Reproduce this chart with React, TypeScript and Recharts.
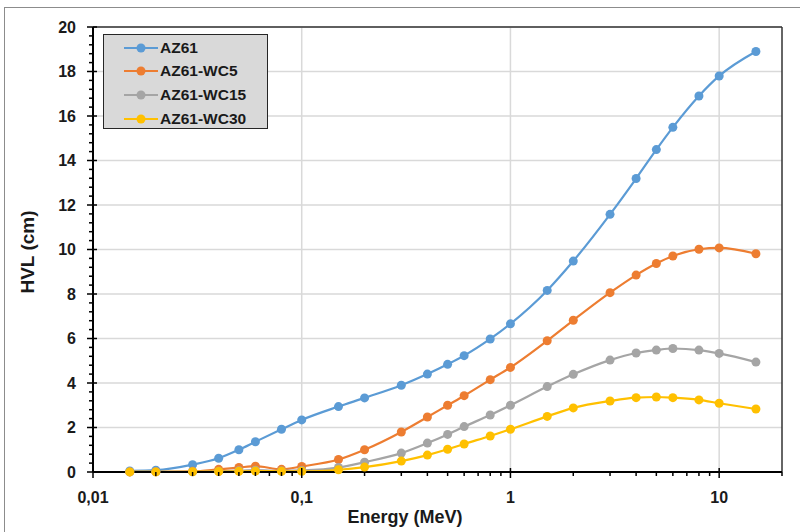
import {
  LineChart,
  Line,
  XAxis,
  YAxis,
  CartesianGrid,
  Legend,
  ReferenceLine,
  Label,
} from 'recharts';

const energies = [0.015, 0.02, 0.03, 0.04, 0.05, 0.06, 0.08, 0.1, 0.15, 0.2, 0.3, 0.4, 0.5, 0.6, 0.8, 1, 1.5, 2, 3, 4, 5, 6, 8, 10, 15];
const az61 = [0.05, 0.08, 0.33, 0.62, 1.0, 1.36, 1.92, 2.34, 2.94, 3.33, 3.9, 4.4, 4.84, 5.23, 5.98, 6.66, 8.16, 9.48, 11.58, 13.19, 14.49, 15.49, 16.9, 17.8, 18.9];
const az61wc5 = [0.005, 0.01, 0.03, 0.12, 0.2, 0.26, 0.12, 0.25, 0.56, 1.0, 1.8, 2.47, 3.0, 3.43, 4.15, 4.7, 5.9, 6.82, 8.06, 8.85, 9.37, 9.71, 10.01, 10.07, 9.81];
const az61wc15 = [0.005, 0.01, 0.01, 0.03, 0.06, 0.08, 0.05, 0.07, 0.2, 0.44, 0.85, 1.3, 1.69, 2.04, 2.56, 3.0, 3.84, 4.39, 5.03, 5.35, 5.48, 5.55, 5.48, 5.33, 4.94];
const az61wc30 = [0.005, 0.005, 0.01, 0.02, 0.03, 0.04, 0.03, 0.03, 0.1, 0.22, 0.49, 0.76, 1.02, 1.26, 1.62, 1.92, 2.5, 2.88, 3.19, 3.34, 3.37, 3.34, 3.24, 3.09, 2.83];

const seriesNames = ['AZ61', 'AZ61-WC5', 'AZ61-WC15', 'AZ61-WC30'];
const seriesColors = ['#5B9BD5', '#ED7D31', '#A5A5A5', '#FFC000'];

const xMajor = [0.01, 0.1, 1, 10];
const xMinor = [0.02, 0.03, 0.04, 0.05, 0.06, 0.07, 0.08, 0.09, 0.2, 0.3, 0.4, 0.5, 0.6, 0.7, 0.8, 0.9, 2, 3, 4, 5, 6, 7, 8, 9, 20];
const yMajor = [0, 2, 4, 6, 8, 10, 12, 14, 16, 18, 20];
const yMinor = Array.from({ length: 51 }, (_, i) => Math.round(i * 4) / 10).filter((v) => !yMajor.includes(v));

const data = energies.map((e, i) => ({
  energy: e,
  AZ61: az61[i],
  'AZ61-WC5': az61wc5[i],
  'AZ61-WC15': az61wc15[i],
  'AZ61-WC30': az61wc30[i],
}));

const font = '"Liberation Sans", Arial, sans-serif';

const XTick = (props: any) => {
  const { x, y, payload } = props;
  const v = payload.value;
  const major = xMajor.includes(v);
  return (
    <g>
      <line x1={x} x2={x} y1={major ? y - 4 : y} y2={major ? y + 6 : y + 4} stroke="#000" strokeWidth={1.5} />
      {major && (
        <text x={x} y={y + 25} textAnchor="middle" dominantBaseline="central" fontFamily={font} fontWeight="bold" fontSize={16} fill="#1a1a1a">
          {String(v).replace('.', ',')}
        </text>
      )}
    </g>
  );
};

const YTick = (props: any) => {
  const { x, y, payload } = props;
  const v = payload.value;
  const major = yMajor.includes(v);
  return (
    <g>
      <line x1={major ? x - 6 : x - 4} x2={major ? x + 4 : x} y1={y} y2={y} stroke="#000" strokeWidth={1.5} />
      {major && (
        <text x={x - 17} y={y} textAnchor="end" dominantBaseline="central" fontFamily={font} fontWeight="bold" fontSize={16} fill="#1a1a1a">
          {v}
        </text>
      )}
    </g>
  );
};

const LegendBox = () => (
  <div
    style={{
      position: 'relative',
      width: 165,
      height: 95,
      boxSizing: 'border-box',
      background: '#d9d9d9',
      border: '1.5px solid #262626',
      fontFamily: font,
      fontWeight: 'bold',
      fontSize: 15.5,
      color: '#1a1a1a',
    }}
  >
    {seriesNames.map((name, i) => (
      <div key={name} style={{ position: 'absolute', left: 20, top: 3.5 + i * 23.8, height: 18, display: 'flex', alignItems: 'center' }}>
        <svg width={34} height={18} style={{ display: 'block' }}>
          <line x1={0} x2={34} y1={9} y2={9} stroke={seriesColors[i]} strokeWidth={2.2} />
          <circle cx={17} cy={9} r={4.5} fill={seriesColors[i]} />
        </svg>
        <span style={{ marginLeft: 2, lineHeight: '18px' }}>{name}</span>
      </div>
    ))}
  </div>
);

export default function App() {
  return (
    <div style={{ position: 'absolute', left: 0, top: 0, width: 800, height: 532, background: '#fff', overflow: 'hidden' }}>
      <div style={{ position: 'absolute', left: 4, top: 7, width: 810, height: 540, border: '1px solid #8c8c8c' }} />
      <LineChart width={800} height={532} data={data} margin={{ top: 27, right: 18, bottom: 0, left: 0 }} style={{ position: 'absolute', left: 0, top: 0 }}>
        <CartesianGrid stroke="#d9d9d9" strokeWidth={1.5} horizontalValues={yMajor} verticalValues={[0.1, 1, 10]} />
        <XAxis
          dataKey="energy"
          type="number"
          scale="log"
          domain={[0.01, 20]}
          allowDataOverflow
          ticks={[...xMajor, ...xMinor]}
          interval={0}
          tickSize={0}
          tickMargin={0}
          tick={<XTick />}
          axisLine={{ stroke: '#000', strokeWidth: 2 }}
          height={60}
        >
          <Label
            content={() => (
              <text x={405} y={517} textAnchor="middle" dominantBaseline="central" fontFamily={font} fontWeight="bold" fontSize={18} fill="#1a1a1a">
                Energy (MeV)
              </text>
            )}
          />
        </XAxis>
        <YAxis
          type="number"
          domain={[0, 20]}
          ticks={[...yMajor, ...yMinor]}
          interval={0}
          tickSize={0}
          tickMargin={0}
          tick={<YTick />}
          axisLine={{ stroke: '#000', strokeWidth: 2 }}
          width={93}
        >
          <Label
            content={() => (
              <text x={27} y={252} textAnchor="middle" dominantBaseline="central" transform="rotate(-90 27 252)" fontFamily={font} fontWeight="bold" fontSize={19} fill="#1a1a1a">
                HVL (cm)
              </text>
            )}
          />
        </YAxis>
        <ReferenceLine y={20} stroke="#333" strokeWidth={1.5} />
        <ReferenceLine x={20} stroke="#333" strokeWidth={1.5} />
        <Legend
          layout="vertical"
          align="center"
          verticalAlign="middle"
          content={() => <LegendBox />}
          wrapperStyle={{ left: 103, top: 34, width: 165, height: 95 }}
        />
        {seriesNames.map((name, i) => (
          <Line
            key={name}
            dataKey={name}
            type="monotone"
            stroke={seriesColors[i]}
            strokeWidth={2.2}
            dot={{ r: 4.5, fill: seriesColors[i], stroke: seriesColors[i], strokeWidth: 0 }}
            activeDot={false}
            isAnimationActive={false}
          />
        ))}
      </LineChart>
    </div>
  );
}
